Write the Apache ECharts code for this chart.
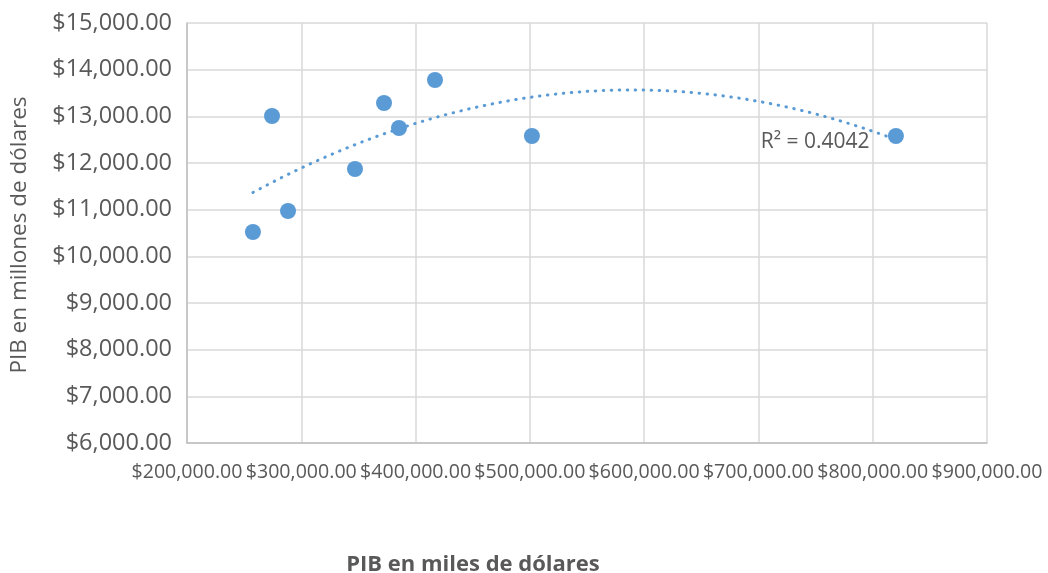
<!DOCTYPE html>
<html><head><meta charset="utf-8">
<script src="https://cdn.jsdelivr.net/npm/echarts@6/dist/echarts.min.js"></script>
<style>html,body{margin:0;padding:0;background:#fff;overflow:hidden}#c{width:1048px;height:573px}</style>
</head><body><div id="c"></div>
<script>
const pibMiles = [257700, 274400, 288400, 347000, 372400, 385500, 417000, 501800, 820300];
const pibMillones = [10522, 13007, 10972, 11872, 13286, 12750, 13779, 12579, 12579];
const xTitle = 'PIB en miles de dólares';
const yTitle = 'PIB en millones de dólares';
const r2Label = 'R² = 0.4042';

// quadratic least-squares trendline (as in the original chart's polynomial trendline)
function polyFit2(xs, ys) {
  const n = xs.length, s = 1e5;
  let S = [0,0,0,0,0], T = [0,0,0];
  for (let i = 0; i < n; i++) {
    const x = xs[i] / s, y = ys[i];
    let p = 1;
    for (let k = 0; k < 5; k++) { S[k] += p; if (k < 3) T[k] += p * y; p *= x; }
  }
  const A = [[S[0],S[1],S[2],T[0]],[S[1],S[2],S[3],T[1]],[S[2],S[3],S[4],T[2]]];
  for (let i = 0; i < 3; i++) {
    let m = i; for (let r = i+1; r < 3; r++) if (Math.abs(A[r][i]) > Math.abs(A[m][i])) m = r;
    [A[i], A[m]] = [A[m], A[i]];
    for (let r = 0; r < 3; r++) if (r !== i) { const f = A[r][i] / A[i][i]; for (let c = i; c < 4; c++) A[r][c] -= f * A[i][c]; }
  }
  const c = [A[0][3]/A[0][0], A[1][3]/A[1][1], A[2][3]/A[2][2]];
  return x => c[0] + c[1]*(x/s) + c[2]*(x/s)*(x/s);
}
const f = polyFit2(pibMiles, pibMillones);
const xmin = Math.min(...pibMiles), xmax = Math.max(...pibMiles);
const trend = [];
for (let i = 0; i <= 100; i++) { const x = xmin + (xmax - xmin) * i / 100; trend.push([x, f(x)]); }

const money = v => '$' + v.toLocaleString('en-US', {minimumFractionDigits: 2, maximumFractionDigits: 2});
const font = "'Open Sans', sans-serif";
const grey = '#595959';
const chart = echarts.init(document.getElementById('c'));
chart.setOption({
  animation: false,
  grid: {left: 187, width: 800, top: 23, height: 420, containLabel: false, outerBoundsMode: 'none'},
  xAxis: {
    type: 'value', min: 200000, max: 900000, interval: 100000,
    axisLine: {show: true, lineStyle: {color: '#bfbfbf', width: 1.5}},
    axisTick: {show: false},
    splitLine: {show: true, lineStyle: {color: '#d9d9d9', width: 1.5}},
    axisLabel: {formatter: money, fontFamily: font, fontSize: 19.6, color: grey, margin: 19}
  },
  yAxis: {
    type: 'value', min: 6000, max: 15000, interval: 1000,
    axisLine: {show: true, lineStyle: {color: '#bfbfbf', width: 1.5}},
    axisTick: {show: false},
    splitLine: {show: true, lineStyle: {color: '#d9d9d9', width: 1.5}},
    axisLabel: {formatter: money, fontFamily: font, fontSize: 23.5, color: grey, margin: 15}
  },
  graphic: [
    {type: 'text', x: 473, y: 565, style: {text: xTitle, font: "bold 22px 'Open Sans', sans-serif", fill: grey, align: 'center', verticalAlign: 'middle'}},
    {type: 'text', x: 20, y: 235, rotation: Math.PI / 2, style: {text: yTitle, font: "22.5px 'Open Sans', sans-serif", fill: grey, align: 'center', verticalAlign: 'middle'}}
  ],
  series: [
    {
      type: 'line', data: trend, showSymbol: false, symbol: 'none', smooth: false, z: 2,
      lineStyle: {color: '#5b9bd5', width: 3, type: [0.5, 7.5], cap: 'round'},
      markPoint: {
        symbol: 'circle', symbolSize: 0,
        data: [{coord: [702000, 12450]}],
        label: {show: true, formatter: r2Label, position: 'right', distance: 0, fontFamily: font, fontSize: 21, color: grey}
      }
    },
    {
      type: 'scatter', data: pibMiles.map((x, i) => [x, pibMillones[i]]),
      symbol: 'circle', symbolSize: 16, z: 3,
      itemStyle: {color: '#5b9bd5', opacity: 1}
    }
  ]
});
</script></body></html>
